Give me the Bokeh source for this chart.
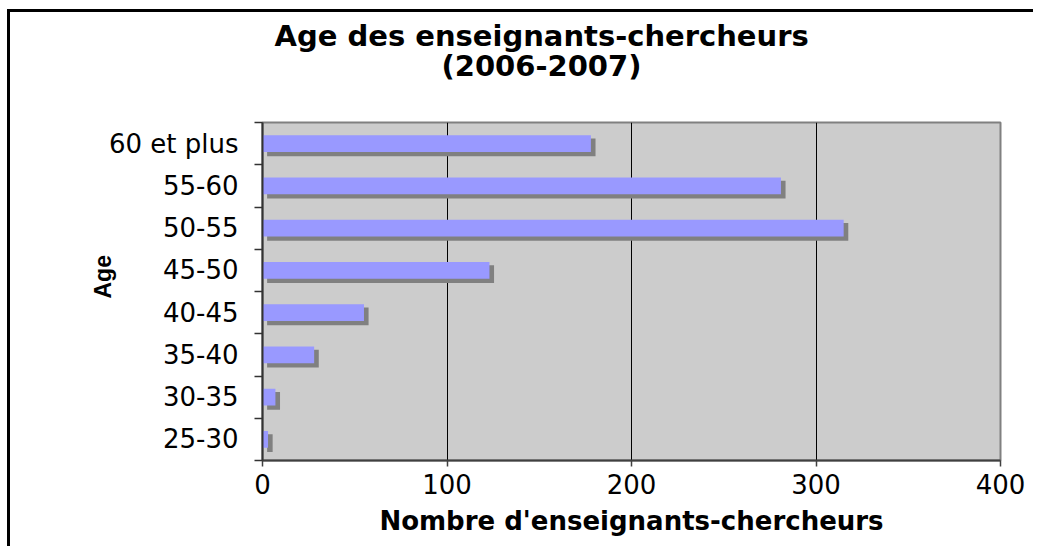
from bokeh.plotting import figure
from bokeh.models import Range1d, FixedTicker, Title
from bokeh.embed import file_html
from bokeh.resources import INLINE

# ---- data ----
age_groups = ["25-30", "30-35", "35-40", "40-45", "45-50", "50-55", "55-60", "60 et plus"]
counts = [3, 7, 28, 55, 123, 315, 281, 178]
x_ticks = [0, 100, 200, 300, 400]
grid_ticks = [100, 200, 300]
title_line1 = "Age des enseignants-chercheurs"
title_line2 = "(2006-2007)"
x_label = "Nombre d'enseignants-chercheurs"
y_label = "Age"

n = len(age_groups)
centers = [i + 0.5 for i in range(n)]
boundaries = list(range(n + 1))

p = figure(width=1026, height=537, title=None,
           x_range=Range1d(0, 400), y_range=Range1d(0, n),
           output_backend="svg", toolbar_location=None,
           min_border_left=252, min_border_right=36,
           min_border_top=110, min_border_bottom=89)
p.styles = {"border-left": "3px solid black", "border-top": "3px solid black",
            "margin-left": "7px", "margin-top": "9px"}

p.background_fill_color = "#CCCCCC"
p.border_fill_color = "white"
p.outline_line_color = "#808080"
p.outline_line_width = 2

# shadow bars then main bars
sh_dx = 2.5
sh_dy = 0.09
p.hbar(y=[c - sh_dy for c in centers], left=[sh_dx] * n, right=[v + sh_dx for v in counts],
       height=0.42, fill_color="#808080", line_color=None)
p.hbar(y=centers, left=0, right=counts, height=0.40, fill_color="#9999FF", line_color=None)

# grids
p.ygrid.visible = False
p.xgrid.ticker = FixedTicker(ticks=grid_ticks)
p.xgrid.grid_line_color = "black"
p.xgrid.grid_line_width = 1

# x axis
xa = p.xaxis[0]
xa.ticker = FixedTicker(ticks=x_ticks)
xa.axis_line_color = "#404040"
xa.axis_line_width = 2
xa.major_tick_in = 0
xa.major_tick_out = 6
xa.major_tick_line_color = "#404040"
xa.major_tick_line_width = 1.5
xa.minor_tick_line_color = None
xa.major_label_text_font = "DejaVu Sans"
xa.major_label_text_font_size = "26px"
xa.major_label_text_color = "black"
xa.major_label_standoff = 7
xa.axis_label = x_label
xa.axis_label_text_font = "DejaVu Sans"
xa.axis_label_text_font_style = "bold"
xa.axis_label_text_font_size = "26px"
xa.axis_label_text_color = "black"
xa.axis_label_standoff = 9

# y axis
ya = p.yaxis[0]
ya.ticker = FixedTicker(ticks=centers, minor_ticks=boundaries)
ya.major_label_overrides = {c: g for c, g in zip(centers, age_groups)}
ya.axis_line_color = "#333333"
ya.axis_line_width = 2
ya.major_tick_in = 0
ya.major_tick_out = 0
ya.minor_tick_in = 0
ya.minor_tick_out = 8
ya.minor_tick_line_color = "#333333"
ya.minor_tick_line_width = 1.5
ya.major_label_text_font = "DejaVu Sans"
ya.major_label_text_font_size = "26px"
ya.major_label_text_color = "black"
ya.major_label_standoff = 16

# y axis title as a left-side title (lets it sit a bit above the middle)
p.add_layout(Title(text=y_label, align="left", offset=162, standoff=-20,
                   vertical_align="bottom", text_font="Liberation Sans",
                   text_font_style="bold", text_font_size="23px", text_color="black"), "left")

# chart title: spacer, then second line, then first line (stacked outward)
tfont = dict(text_font="DejaVu Sans", text_font_style="bold",
             text_font_size="29px", text_color="black")
p.add_layout(Title(text=" ", standoff=3.5, **tfont), "above")
p.add_layout(Title(text=title_line2, align="left", offset=179, standoff=0, **tfont), "above")
p.add_layout(Title(text=title_line1, align="left", offset=12, standoff=-12, **tfont), "above")

open("out.html", "w").write(file_html(p, INLINE))
